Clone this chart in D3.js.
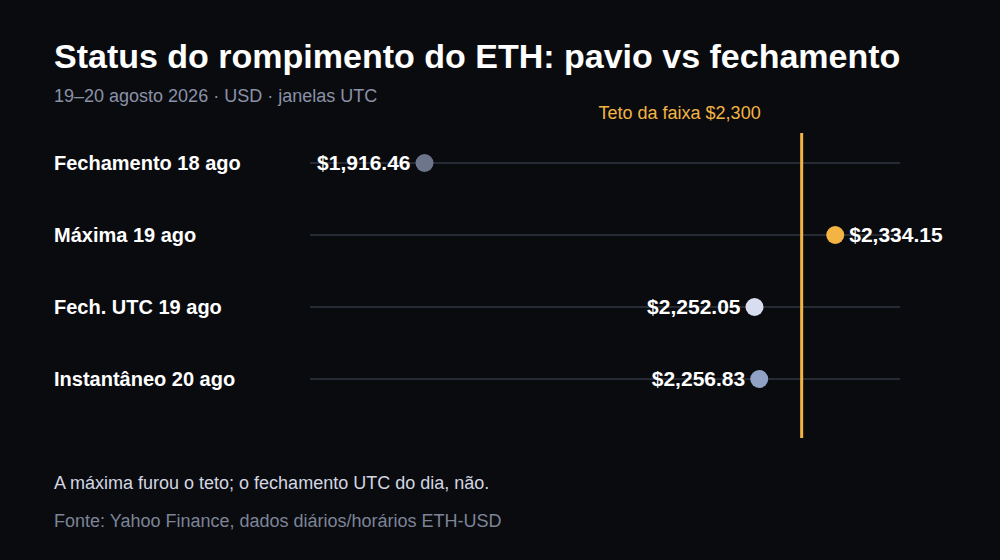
<!DOCTYPE html>
<html>
<head>
<meta charset="utf-8">
<script src="https://cdn.jsdelivr.net/npm/d3@7"></script>
<style>
  html, body { margin: 0; padding: 0; background: #0a0b0f; }
  svg { display: block; font-family: "Liberation Sans", Arial, sans-serif; }
</style>
</head>
<body>
<div id="chart"></div>
<script>
// data
const labels = ["Fechamento 18 ago", "Máxima 19 ago", "Fech. UTC 19 ago", "Instantâneo 20 ago"];
const prices = [1916.46, 2334.15, 2252.05, 2256.83];
const dotColors = ["#6c758a", "#f3b443", "#d9ddf0", "#8fa2c6"];
const labelSide = ["left", "right", "left", "left"];
const ceiling = 2300;

const width = 1000, height = 560;
const fmt = d3.format("$,.2f");

const svg = d3.select("#chart").append("svg")
  .attr("width", width)
  .attr("height", height);

svg.append("rect").attr("width", width).attr("height", height).attr("fill", "#0a0b0f");

const x = d3.scaleLinear().domain([1800, 2400]).range([310, 900]);
const y = d3.scalePoint().domain(labels).range([163, 379]);

// title
svg.append("text")
  .attr("x", 54).attr("y", 68)
  .attr("fill", "#ffffff")
  .attr("font-size", 34).attr("font-weight", "bold")
  .text("Status do rompimento do ETH: pavio vs fechamento");

svg.append("text")
  .attr("x", 54).attr("y", 102)
  .attr("fill", "#8a92a7")
  .attr("font-size", 18)
  .text("19–20 agosto 2026 · USD · janelas UTC");

// row tracks
svg.append("g").selectAll("line").data(labels)
  .enter().append("line")
  .attr("x1", x.range()[0]).attr("x2", x.range()[1])
  .attr("y1", d => y(d)).attr("y2", d => y(d))
  .attr("stroke", "#262a35").attr("stroke-width", 2);

// ceiling
svg.append("line")
  .attr("x1", x(ceiling)).attr("x2", x(ceiling))
  .attr("y1", 133).attr("y2", 438)
  .attr("stroke", "#f3b443").attr("stroke-width", 3);

svg.append("text")
  .attr("x", x(ceiling) - 41).attr("y", 119)
  .attr("text-anchor", "end")
  .attr("fill", "#f3b443")
  .attr("font-size", 18)
  .text("Teto da faixa $2,300");

// row labels
svg.append("g").selectAll("text").data(labels)
  .enter().append("text")
  .attr("x", 54).attr("y", d => y(d) + 7)
  .attr("fill", "#ffffff")
  .attr("font-size", 20).attr("font-weight", "bold")
  .text(d => d);

// dots
const rows = labels.map((d, i) => ({ label: d, price: prices[i], color: dotColors[i], side: labelSide[i] }));

svg.append("g").selectAll("circle").data(rows)
  .enter().append("circle")
  .attr("cx", d => x(d.price)).attr("cy", d => y(d.label))
  .attr("r", 9)
  .attr("fill", d => d.color);

svg.append("g").selectAll("text").data(rows)
  .enter().append("text")
  .attr("x", d => d.side === "left" ? x(d.price) - 14 : x(d.price) + 14)
  .attr("y", d => y(d.label) + 7)
  .attr("text-anchor", d => d.side === "left" ? "end" : "start")
  .attr("fill", "#ffffff")
  .attr("font-size", 21).attr("font-weight", "bold")
  .text(d => fmt(d.price));

// notes
svg.append("text")
  .attr("x", 54).attr("y", 489)
  .attr("fill", "#d3d7e2")
  .attr("font-size", 18)
  .text("A máxima furou o teto; o fechamento UTC do dia, não.");

svg.append("text")
  .attr("x", 54).attr("y", 527)
  .attr("fill", "#7d8497")
  .attr("font-size", 18)
  .text("Fonte: Yahoo Finance, dados diários/horários ETH-USD");
</script>
</body>
</html>
